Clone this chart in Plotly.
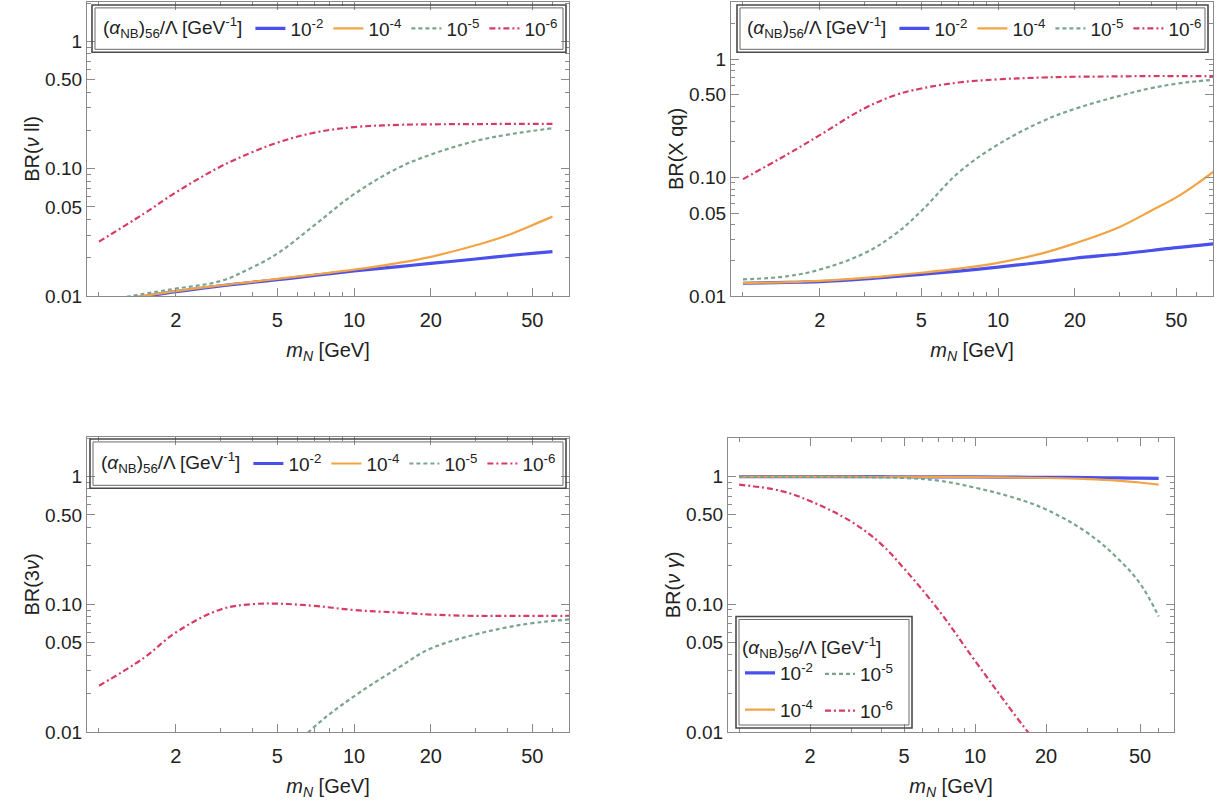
import plotly.graph_objects as go

# ---------------- data ----------------
mass = [1, 1.5, 2, 3, 4, 5, 7, 10, 15, 20, 30, 40, 50, 60]
mass_ext = [1, 1.5, 2, 3, 4, 5, 7, 10, 15, 20, 30, 40, 50, 60, 70]

coupling_labels = ["10<sup>-2</sup>", "10<sup>-4</sup>", "10<sup>-5</sup>", "10<sup>-6</sup>"]

# BR(nu l l)
nll_1e2 = [0.0088, 0.0099, 0.0108, 0.0120, 0.0128, 0.0134, 0.0145, 0.0157, 0.0170, 0.0180, 0.0195, 0.0207, 0.0216, 0.0223]
nll_1e4 = [0.0089, 0.0100, 0.0109, 0.0121, 0.0129, 0.0136, 0.0147, 0.0161, 0.0182, 0.0203, 0.0250, 0.0300, 0.0360, 0.0420]
nll_1e5 = [0.0090, 0.0104, 0.0114, 0.0131, 0.0168, 0.0215, 0.0360, 0.0630, 0.102, 0.129, 0.165, 0.185, 0.198, 0.208]
nll_1e6 = [0.0267, 0.0443, 0.0650, 0.104, 0.135, 0.160, 0.192, 0.212, 0.221, 0.223, 0.224, 0.225, 0.225, 0.225]

# BR(X q q)
xqq_1e2 = [0.0128, 0.0130, 0.0132, 0.0139, 0.0146, 0.0152, 0.0162, 0.0175, 0.0193, 0.0208, 0.0226, 0.0242, 0.0256, 0.0266, 0.0275]
xqq_1e4 = [0.0129, 0.0131, 0.0134, 0.0142, 0.0150, 0.0157, 0.0170, 0.0190, 0.0230, 0.0278, 0.0383, 0.0527, 0.068, 0.088, 0.112]
xqq_1e5 = [0.0138, 0.0147, 0.0167, 0.0230, 0.0340, 0.052, 0.110, 0.190, 0.300, 0.380, 0.490, 0.570, 0.620, 0.650, 0.670]
xqq_1e6 = [0.097, 0.158, 0.228, 0.385, 0.500, 0.565, 0.635, 0.675, 0.700, 0.710, 0.715, 0.720, 0.720, 0.720, 0.720]

# BR(3 nu)
nu3_1e2 = [0.0020, 0.0020, 0.0020, 0.0020, 0.0020, 0.0020, 0.0020, 0.0020, 0.0020, 0.0020, 0.0020, 0.0020, 0.0020, 0.0020, 0.0020]
nu3_1e4 = [0.0020, 0.0020, 0.0020, 0.0020, 0.0020, 0.0020, 0.0020, 0.0020, 0.0020, 0.0020, 0.0020, 0.0020, 0.0020, 0.0020, 0.0020]
nu3_1e5 = [0.0002, 0.0005, 0.0009, 0.0019, 0.0035, 0.0055, 0.0110, 0.0190, 0.0320, 0.0450, 0.0580, 0.0660, 0.0710, 0.0740, 0.0760]
nu3_1e6 = [0.023, 0.038, 0.060, 0.091, 0.100, 0.101, 0.097, 0.090, 0.086, 0.083, 0.081, 0.081, 0.081, 0.081, 0.081]

# BR(nu gamma)
nug_1e2 = [0.995, 0.995, 0.995, 0.994, 0.993, 0.992, 0.991, 0.989, 0.985, 0.982, 0.977, 0.972, 0.968, 0.963]
nug_1e4 = [0.995, 0.995, 0.994, 0.993, 0.992, 0.991, 0.989, 0.985, 0.978, 0.970, 0.950, 0.925, 0.895, 0.860]
nug_1e5 = [0.990, 0.990, 0.990, 0.986, 0.980, 0.970, 0.925, 0.815, 0.670, 0.550, 0.360, 0.230, 0.145, 0.080]
nug_1e6 = [0.860, 0.770, 0.640, 0.440, 0.295, 0.190, 0.090, 0.036, 0.013, 0.0065, 0.002, 0.001, 0.0006, 0.0004]

x_tickvals = [2, 5, 10, 20, 50]
x_ticktext = ["2", "5", "10", "20", "50"]
y_tickvals = [0.01, 0.05, 0.1, 0.5, 1]
y_ticktext = ["0.01", "0.05", "0.10", "0.50", "1"]

# ---------------- styles ----------------
W, H = 1226, 811
colors = ["#4a50ec", "#f2a444", "#7aa48e", "#d83a62"]
dashes = ["solid", "solid", "4px,3px", "6px,3px,2px,3px"]
widths = [3.2, 2.2, 2.2, 2.2]
FRAME = "#8a8a8a"
TXT = "#222222"
FONT = "Liberation Sans, Arial, sans-serif"

legend_title = "(<i>α</i><sub>NB</sub>)<sub>56</sub>/Λ [GeV<sup>-1</sup>]"


def xdom(a, b):
    return [a / W, b / W]


def ydom(top, bottom):
    return [1 - bottom / H, 1 - top / H]


fig = go.Figure()

panels = [
    dict(x=mass, ys=[nll_1e2, nll_1e4, nll_1e5, nll_1e6], xd=(87, 569), yd=(2, 300), ymax=0.31,
         title="BR(<i>ν</i> ll)", legends=["legend"] * 4),
    dict(x=mass_ext, ys=[xqq_1e2, xqq_1e4, xqq_1e5, xqq_1e6], xd=(731, 1213), yd=(2, 300), ymax=0.483,
         title="BR(X qq)", legends=["legend2"] * 4),
    dict(x=mass_ext, ys=[nu3_1e2, nu3_1e4, nu3_1e5, nu3_1e6], xd=(87, 569), yd=(443, 742), ymax=0.309,
         title="BR(3<i>ν</i>)", legends=["legend3"] * 4),
    dict(x=mass, ys=[nug_1e2, nug_1e4, nug_1e5, nug_1e6], xd=(728, 1174), yd=(444, 742), ymax=0.30,
         title="BR(<i>ν</i> <i>γ</i>)", legends=["legend4", "legend4", "legend5", "legend5"]),
]

layout = dict(
    width=W, height=H, margin=dict(l=0, r=0, t=0, b=0),
    paper_bgcolor="white", plot_bgcolor="white",
    font=dict(family=FONT, color=TXT, size=18),
    showlegend=True, shapes=[],
)

for i, p in enumerate(panels):
    k = "" if i == 0 else str(i + 1)
    for j in range(4):
        fig.add_trace(go.Scatter(
            x=p["x"], y=p["ys"][j], mode="lines", name=coupling_labels[j],
            line=dict(color=colors[j], dash=dashes[j], width=widths[j], shape="spline", smoothing=1.1),
            xaxis="x" + k, yaxis="y" + k, legend=p["legends"][j], legendgroup=f"g{i}{j}",
            hoverinfo="skip",
        ))
    layout["xaxis" + k] = dict(
        type="log", domain=xdom(*p["xd"]), range=[-0.047, 1.843], anchor="y" + k,
        tickvals=x_tickvals, ticktext=x_ticktext, ticks="inside", ticklen=8, tickwidth=1,
        tickcolor=FRAME, showline=True, linecolor=FRAME, linewidth=1.2, mirror="ticks",
        showgrid=False, zeroline=False, tickfont=dict(size=20, color=TXT), ticklabelstandoff=6,
        minor=dict(tickvals=[1, 3, 4, 6, 7, 8, 9, 30, 40, 60, 70], ticks="inside", ticklen=4,
                   tickcolor=FRAME, showgrid=False),
        title=dict(text="<i>m<sub>N</sub></i> [GeV]", font=dict(size=20, color=TXT), standoff=12),
    )
    layout["yaxis" + k] = dict(
        type="log", domain=ydom(*p["yd"]), range=[-2, p["ymax"]], anchor="x" + k,
        tickvals=y_tickvals, ticktext=y_ticktext, ticks="inside", ticklen=8, tickwidth=1,
        tickcolor=FRAME, showline=True, linecolor=FRAME, linewidth=1.2, mirror="ticks",
        showgrid=False, zeroline=False, tickfont=dict(size=19, color=TXT),
        minor=dict(tickvals=[0.02, 0.03, 0.04, 0.06, 0.07, 0.08, 0.09, 0.2, 0.3, 0.4, 0.6, 0.7, 0.8, 0.9, 2, 3],
                   ticks="inside", ticklen=4, tickcolor=FRAME, showgrid=False),
        title=dict(text=p["title"], font=dict(size=20, color=TXT), standoff=0),
    )

leg_common = dict(bgcolor="rgba(0,0,0,0)", borderwidth=0, font=dict(size=19, color=TXT),
                  itemwidth=30)
leg_title = dict(text=legend_title, side="left", font=dict(size=19, color=TXT))

layout["legend"] = dict(leg_common, orientation="h", x=101 / W, y=1 - 29 / H, xanchor="left", yanchor="middle",
                        title=leg_title, entrywidth=33)
layout["legend2"] = dict(leg_common, orientation="h", x=745 / W, y=1 - 29 / H, xanchor="left", yanchor="middle",
                         title=leg_title, entrywidth=33)
layout["legend3"] = dict(leg_common, orientation="h", x=99 / W, y=1 - 470 / H, xanchor="left", yanchor="middle",
                         title=leg_title, entrywidth=33)
layout["legend4"] = dict(leg_common, orientation="v", x=740 / W, y=1 - 638 / H, xanchor="left", yanchor="top",
                         title=dict(leg_title, side="top"),
                         traceorder="grouped", tracegroupgap=9)
layout["legend5"] = dict(leg_common, orientation="v", x=820 / W, y=1 - 664 / H, xanchor="left", yanchor="top",
                         traceorder="grouped", tracegroupgap=9)

# double frames around legends (pixel boxes -> paper coords)
boxes = [(92, 5, 566, 53), (737, 5, 1208, 53), (90, 445, 566, 495), (736, 625, 912, 738)]
for (x0, y0, x1, y1) in boxes:
    layout["shapes"].append(dict(type="rect", xref="paper", yref="paper",
                                 x0=x0 / W, x1=x1 / W, y0=1 - y1 / H, y1=1 - y0 / H,
                                 line=dict(color="#4a4a4a", width=1.6), layer="above"))
    layout["shapes"].append(dict(type="rect", xref="paper", yref="paper",
                                 x0=(x0 + 3) / W, x1=(x1 - 3) / W, y0=1 - (y1 - 3) / H, y1=1 - (y0 + 3) / H,
                                 line=dict(color="#6a6a6a", width=1), layer="above"))

fig.update_layout(**layout)
fig.write_html("out.html")
